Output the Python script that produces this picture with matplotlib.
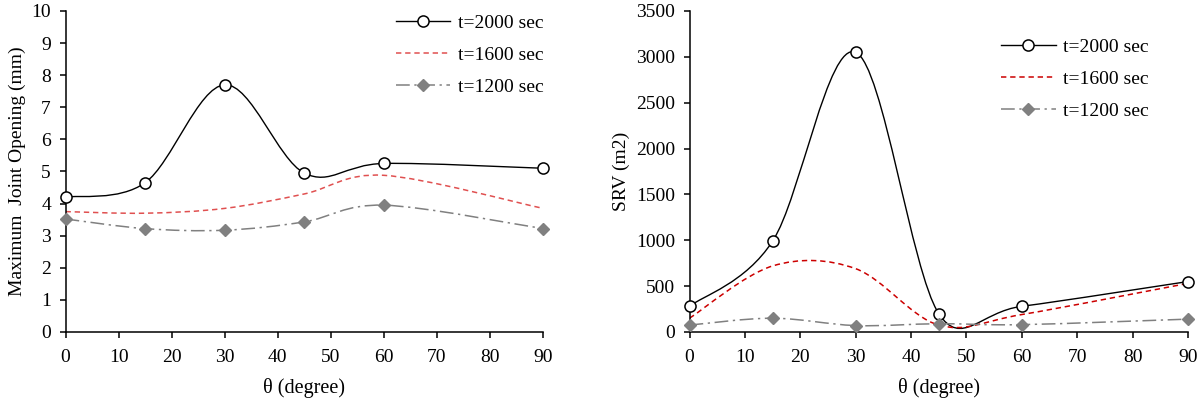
import numpy as np
import matplotlib
matplotlib.use('Agg')
from matplotlib import pyplot as plt
from matplotlib.path import Path
from matplotlib.patches import PathPatch

plt.rcParams['font.family'] = ['Liberation Serif', 'DejaVu Serif']
plt.rcParams['font.size'] = 14

theta = [0, 15, 30, 45, 60, 90]

# left panel: maximum joint opening (mm)
open_2000 = [4.2, 4.65, 7.7, 4.95, 5.25, 5.1]
open_1600 = [3.75, 3.7, 3.85, 4.3, 4.88, 3.85]
open_1200 = [3.52, 3.22, 3.17, 3.43, 3.95, 3.22]

# right panel: SRV (m2)
srv_2000 = [280, 990, 3050, 200, 280, 550]
srv_1600 = [150, 720, 690, 75, 190, 530]
srv_1200 = [75, 150, 70, 90, 80, 140]

labels = ['t=2000 sec', 't=1600 sec', 't=1200 sec']


def ctrl(p, i, j, seg):
    # tangent offset at point i towards point j, 1/6 rule capped at half the segment
    lo, hi = max(i - 1, 0), min(i + 1, len(p) - 1)
    d = p[hi] - p[lo]
    nd = np.hypot(*d)
    if nd == 0:
        return p[i]
    f = min(1 / 6, seg / (2 * nd))
    return p[i] + np.sign(j - i) * d * f


def smooth_path(x, y, sx, sy):
    # Excel-like smoothed line drawn as cubic Bezier segments
    p = np.column_stack([np.array(x, float) * sx, np.array(y, float) * sy])
    verts = [p[0]]
    codes = [Path.MOVETO]
    for i in range(len(p) - 1):
        seg = np.hypot(*(p[i + 1] - p[i]))
        verts += [ctrl(p, i, i + 1, seg), ctrl(p, i + 1, i, seg), p[i + 1]]
        codes += [Path.CURVE4] * 3
    verts = np.array(verts) / [sx, sy]
    return Path(verts, codes)


def draw(ax, y2000, y1600, y1200, ymax, ystep, red, sx):
    sy = 321.0 / ymax
    styles = [
        dict(color='black', lw=1.0, ls='-', marker='o', mfc='white', mec='black', ms=8, mew=1.1),
        dict(color=red, lw=1.1, ls=(0, (3.5, 2.5)), marker=None),
        dict(color='#808080', lw=1.1, ls=(0, (9, 3, 1.5, 3)), marker='D', mfc='#808080', mec='#808080', ms=6.5),
    ]
    for ys, st, lab in zip([y2000, y1600, y1200], styles, labels):
        path = smooth_path(theta, ys, sx, sy)
        ax.add_patch(PathPatch(path, fill=False, edgecolor=st['color'], lw=st['lw'],
                               ls=st['ls'], zorder=2))
        if st['marker']:
            ax.plot(theta, ys, ls='none', marker=st['marker'], mfc=st['mfc'], mec=st['mec'],
                    ms=st['ms'], mew=st.get('mew', 1), zorder=3, clip_on=False)
        ax.plot([], [], color=st['color'], lw=st['lw'], ls=st['ls'], marker=st['marker'],
                mfc=st.get('mfc'), mec=st.get('mec'), ms=st.get('ms', 6), mew=st.get('mew', 1),
                label=lab)
    ax.set_xlim(0, 90)
    ax.set_ylim(0, ymax)
    ax.set_xticks(range(0, 91, 10))
    ax.set_yticks(np.arange(0, ymax + ystep / 2, ystep))
    ax.spines['top'].set_visible(False)
    ax.spines['right'].set_visible(False)
    ax.spines['left'].set_linewidth(1.1)
    ax.spines['bottom'].set_linewidth(1.1)
    ax.tick_params(direction='out', length=4.5, width=1.1, pad=6, labelsize=14)
    ax.tick_params(axis='x', pad=7.5)
    ax.set_xlabel('θ (degree)', fontsize=14.5, labelpad=9)


fig = plt.figure(figsize=(12, 3.99), dpi=100)
ax1 = fig.add_axes([0.0546, 0.168, 0.398, 0.8045])
ax2 = fig.add_axes([0.5746, 0.168, 0.4154, 0.8045])

draw(ax1, open_2000, open_1600, open_1200, 10, 1, '#e05050', 5.3)
ax1.set_ylabel('Maximum  Joint Opening (mm)', fontsize=14)
ax1.legend(loc='upper left', bbox_to_anchor=(0.655, 1.045), frameon=False,
           handlelength=2.8, handletextpad=0.4, labelspacing=0.75, fontsize=14)

draw(ax2, srv_2000, srv_1600, srv_1200, 3500, 500, '#cc0000', 5.54)
ax2.set_ylabel('SRV (m2)', fontsize=14)
ax2.legend(loc='upper left', bbox_to_anchor=(0.59, 0.97), frameon=False,
           handlelength=2.8, handletextpad=0.4, labelspacing=0.75, fontsize=14)

fig.savefig('out.png', dpi=100)
